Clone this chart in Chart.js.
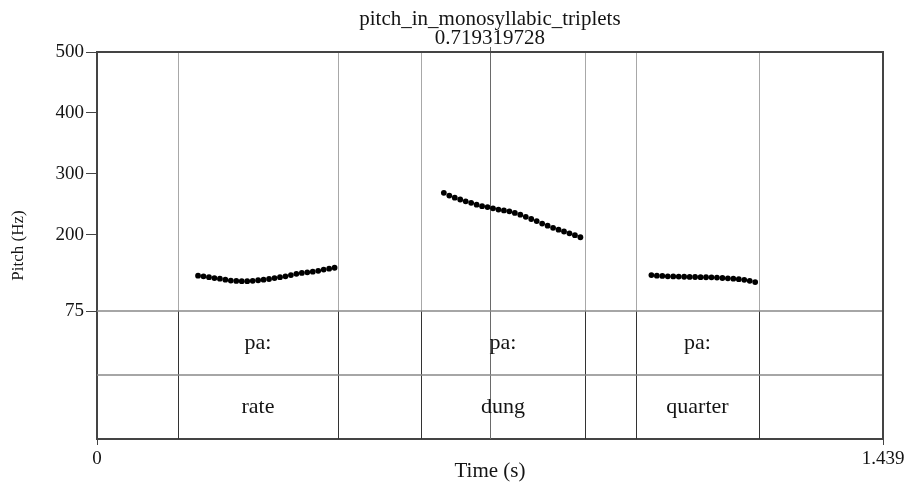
<!DOCTYPE html>
<html>
<head>
<meta charset="utf-8">
<title>pitch_in_monosyllabic_triplets</title>
<script src="https://cdn.jsdelivr.net/npm/chart.js@4.4.1/dist/chart.umd.min.js"></script>
<style>
  html, body { margin: 0; padding: 0; background: #fff; }
  #wrap { width: 911px; height: 484px; }
</style>
</head>
<body>
<div id="wrap"><canvas id="pitchChart"></canvas></div>
<script>
// Time axis (s)
const timeMin = 0;
const timeMax = 1.439;
const timeTicks = [0, 1.439];
const cursorTime = 0.719319728;
const soundName = "pitch_in_monosyllabic_triplets";

// Pitch axis (Hz)
const pitchTicks = [75, 200, 300, 400, 500];
const pitchFloor = 75;
const pitchCeiling = 500;

// TextGrid: both tiers share the same interval boundaries
const intervalStarts = [0.1483, 0.5932, 0.9868];
const intervalEnds = [0.4412, 0.8934, 1.2120];
const syllableLabels = ["pa:", "pa:", "pa:"];
const wordLabels = ["rate", "dung", "quarter"];

// Pitch track, one frame every 10 ms
const rateTimes = [0.185, 0.195, 0.205, 0.215, 0.225, 0.235, 0.245, 0.255, 0.265, 0.275,
  0.285, 0.295, 0.305, 0.315, 0.325, 0.335, 0.345, 0.355, 0.365, 0.375,
  0.385, 0.395, 0.405, 0.415, 0.425, 0.435];
const ratePitch = [133, 132, 130.5, 129, 128, 126.5, 125, 124.3, 124, 124,
  124.5, 125.5, 126.5, 127.5, 129, 130.5, 132, 134, 136, 137.5,
  138.5, 139.5, 141, 143, 144.5, 146];

const dungTimes = [0.635, 0.645, 0.655, 0.665, 0.675, 0.685, 0.695, 0.705, 0.715, 0.725,
  0.735, 0.745, 0.755, 0.765, 0.775, 0.785, 0.795, 0.805, 0.815, 0.825,
  0.835, 0.845, 0.855, 0.865, 0.875, 0.885];
const dungPitch = [269, 264.5, 261, 258, 255, 252.5, 249.5, 247, 245.5, 243.5,
  241.5, 240, 238.5, 236, 233, 229.5, 226, 222.5, 218.5, 215,
  211.5, 208.5, 205.5, 202.5, 199.5, 196];

const quarterTimes = [1.015, 1.025, 1.035, 1.045, 1.055, 1.065, 1.075, 1.085, 1.095, 1.105,
  1.115, 1.125, 1.135, 1.145, 1.155, 1.165, 1.175, 1.185, 1.195, 1.205];
const quarterPitch = [134, 133, 132.5, 132, 131.8, 131.5, 131.2, 131, 130.8, 130.6,
  130.4, 130.2, 129.8, 129.2, 128.6, 128, 127.2, 126.2, 124.5, 122.5];

// the two tier rows sit under the pitch floor on the same vertical scale
const tierRowSpan = 105;
const tierDivider = pitchFloor - tierRowSpan;
const axisMin = pitchFloor - 2 * tierRowSpan;

const serif = "'Liberation Serif', 'Times New Roman', serif";
const ink = "#141414";

function toPoints(times, values) {
    return times.map((t, i) => ({ x: t, y: values[i] }));
}

const praatFrame = {
    id: "praatFrame",
    beforeDatasetsDraw(chart) {
        const { ctx, chartArea, scales } = chart;
        const xs = scales.x, ys = scales.y;
        const yFloor = ys.getPixelForValue(pitchFloor);
        const yDiv = ys.getPixelForValue(tierDivider);
        const bounds = intervalStarts.concat(intervalEnds);

        ctx.save();
        // boundaries through the pitch panel
        ctx.strokeStyle = "#a8a8a8";
        ctx.lineWidth = 1;
        bounds.forEach(t => {
            const x = Math.round(xs.getPixelForValue(t)) + 0.5;
            ctx.beginPath();
            ctx.moveTo(x, chartArea.top);
            ctx.lineTo(x, yFloor);
            ctx.stroke();
        });
        // boundaries inside the tiers
        ctx.strokeStyle = "#333";
        bounds.forEach(t => {
            const x = Math.round(xs.getPixelForValue(t)) + 0.5;
            ctx.beginPath();
            ctx.moveTo(x, yFloor);
            ctx.lineTo(x, chartArea.bottom);
            ctx.stroke();
        });
        // cursor
        const cx = Math.round(xs.getPixelForValue(cursorTime)) + 0.5;
        ctx.strokeStyle = "#6a6a6a";
        ctx.beginPath();
        ctx.moveTo(cx, chartArea.top - 5);
        ctx.lineTo(cx, chartArea.bottom);
        ctx.stroke();
        // tier separators
        ctx.strokeStyle = "#888";
        ctx.lineWidth = 1.3;
        [yFloor, yDiv].forEach(y => {
            ctx.beginPath();
            ctx.moveTo(chartArea.left, y);
            ctx.lineTo(chartArea.right, y);
            ctx.stroke();
        });
        ctx.restore();
    },
    afterDraw(chart) {
        const { ctx, chartArea, scales } = chart;
        const xs = scales.x, ys = scales.y;
        ctx.save();
        // top and right edges of the frame
        ctx.strokeStyle = "#444";
        ctx.lineWidth = 2;
        ctx.beginPath();
        ctx.moveTo(chartArea.left, chartArea.top);
        ctx.lineTo(chartArea.right, chartArea.top);
        ctx.lineTo(chartArea.right, chartArea.bottom);
        ctx.stroke();

        // interval labels
        ctx.fillStyle = ink;
        ctx.font = "22px " + serif;
        ctx.textAlign = "center";
        ctx.textBaseline = "middle";
        const row1 = ys.getPixelForValue((pitchFloor + tierDivider) / 2);
        const row2 = ys.getPixelForValue((tierDivider + axisMin) / 2);
        intervalStarts.forEach((t0, i) => {
            const mid = xs.getPixelForValue((t0 + intervalEnds[i]) / 2);
            ctx.fillText(syllableLabels[i], mid, row1);
            ctx.fillText(wordLabels[i], mid, row2);
        });

        // sound name and cursor time above the cursor
        const cx = xs.getPixelForValue(cursorTime);
        ctx.font = "21px " + serif;
        ctx.textBaseline = "alphabetic";
        ctx.fillText(soundName, cx, 25);
        ctx.fillText(String(cursorTime), cx, 44);
        ctx.restore();
    }
};

new Chart(document.getElementById("pitchChart"), {
    type: "scatter",
    data: {
        datasets: [
            { label: "rate", data: toPoints(rateTimes, ratePitch) },
            { label: "dung", data: toPoints(dungTimes, dungPitch) },
            { label: "quarter", data: toPoints(quarterTimes, quarterPitch) }
        ].map(ds => Object.assign(ds, {
            pointRadius: 2.9,
            pointBackgroundColor: "#000",
            pointBorderWidth: 0,
            showLine: false
        }))
    },
    options: {
        responsive: true,
        maintainAspectRatio: false,
        animation: false,
        layout: { padding: { top: 52, right: 28, left: 0, bottom: 0 } },
        plugins: {
            legend: { display: false },
            tooltip: { enabled: false }
        },
        scales: {
            x: {
                type: "linear",
                min: timeMin,
                max: timeMax,
                afterBuildTicks: axis => { axis.ticks = timeTicks.map(v => ({ value: v })); },
                afterFit: axis => { axis.height = 45; },
                grid: { drawOnChartArea: false, tickLength: 6, color: "#444" },
                border: { color: "#444", width: 2 },
                ticks: {
                    maxRotation: 0,
                    padding: 3,
                    color: ink,
                    font: { family: serif, size: 19 },
                    callback: v => (v === 0 ? "0" : v.toFixed(3))
                },
                title: {
                    display: true,
                    text: "Time (s)",
                    color: ink,
                    font: { family: serif, size: 21 },
                    padding: 0
                }
            },
            y: {
                type: "linear",
                min: axisMin,
                max: pitchCeiling,
                afterBuildTicks: axis => { axis.ticks = pitchTicks.map(v => ({ value: v })); },
                afterFit: axis => { axis.width = 97; },
                grid: { drawOnChartArea: false, tickLength: 11, color: "#444" },
                border: { color: "#444", width: 2 },
                ticks: {
                    padding: 2,
                    color: ink,
                    font: { family: serif, size: 19 }
                },
                title: {
                    display: true,
                    text: "Pitch (Hz)",
                    color: ink,
                    font: { family: serif, size: 17 },
                    padding: { top: 8, bottom: 0 }
                }
            }
        }
    },
    plugins: [praatFrame]
});
</script>
</body>
</html>
